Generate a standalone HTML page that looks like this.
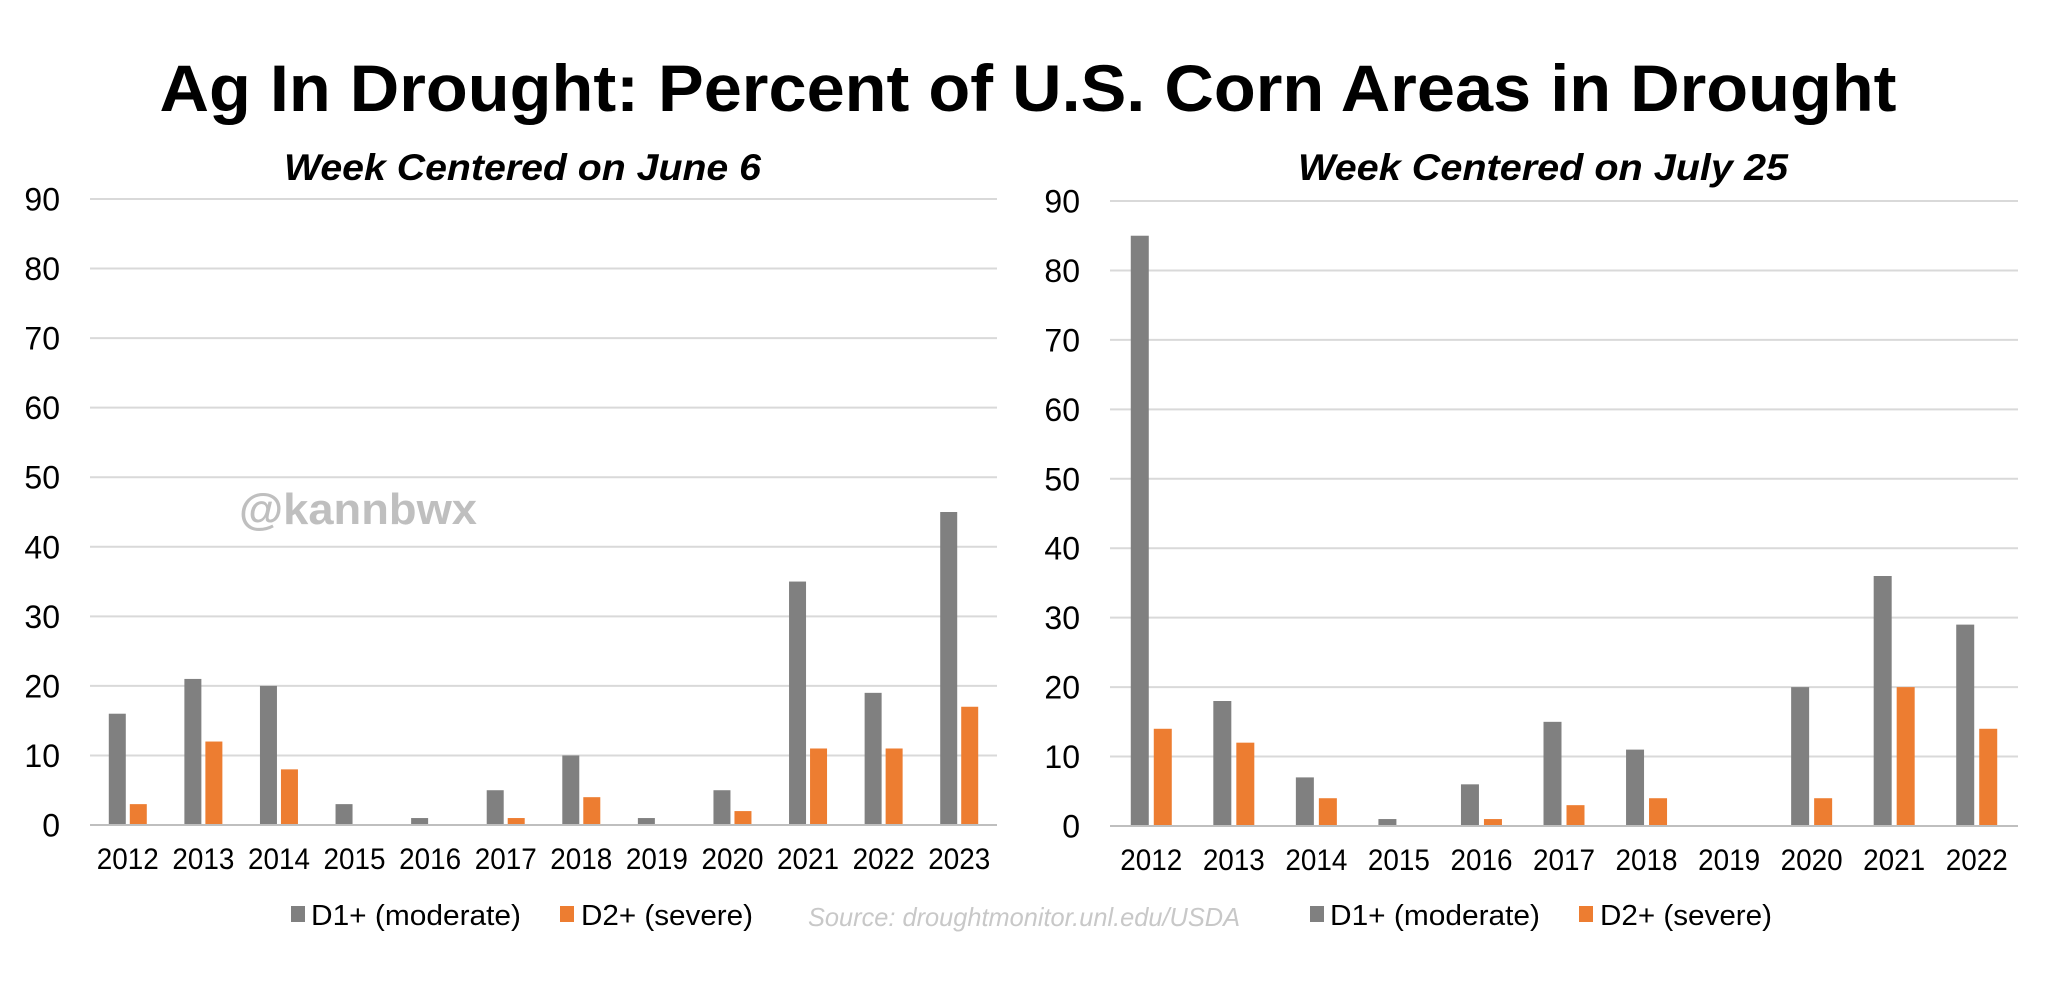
<!DOCTYPE html>
<html><head><meta charset="utf-8"><style>
html,body{margin:0;padding:0;background:#fff;}
svg{display:block;font-family:"Liberation Sans",Arial,sans-serif;}
</style></head><body>
<svg id="chart" width="2048" height="990" viewBox="0 0 2048 990">
<text x="1028" y="111" text-anchor="middle" font-size="66" font-weight="bold" textLength="1737" lengthAdjust="spacingAndGlyphs">Ag In Drought: Percent of U.S. Corn Areas in Drought</text>
<text x="284" y="180" font-size="37" font-weight="bold" font-style="italic" textLength="477" lengthAdjust="spacingAndGlyphs">Week Centered on June 6</text>
<text x="1298" y="180" font-size="37" font-weight="bold" font-style="italic" textLength="490" lengthAdjust="spacingAndGlyphs">Week Centered on July 25</text>
<text x="239" y="524" font-size="44" font-weight="bold" fill="#bfbfbf" textLength="238" lengthAdjust="spacingAndGlyphs">@kannbwx</text>
<text x="808" y="926" font-size="26" font-style="italic" fill="#c8c8c8" textLength="432" lengthAdjust="spacingAndGlyphs">Source: droughtmonitor.unl.edu/USDA</text>
<g id="left"></g>
<g id="right"></g>
</svg>
<script>
const yTicks = [0,10,20,30,40,50,60,70,80,90];
const juneYears = ["2012","2013","2014","2015","2016","2017","2018","2019","2020","2021","2022","2023"];
const juneD1 = [16,21,20,3,1,5,10,1,5,35,19,45];
const juneD2 = [3,12,8,0,0,1,4,0,2,11,11,17];
const julyYears = ["2012","2013","2014","2015","2016","2017","2018","2019","2020","2021","2022"];
const julyD1 = [85,18,7,1,6,15,11,0,20,36,29];
const julyD2 = [14,12,4,0,1,3,4,0,4,20,14];
const NS='http://www.w3.org/2000/svg';
function mk(parent, tag, attrs){const e=document.createElementNS(NS,tag);for(const k in attrs)e.setAttribute(k,attrs[k]);parent.appendChild(e);return e;}
function panel(g, cfg, years, d1, d2){
  const y = v => cfg.y0 + (cfg.y90 - cfg.y0) * v / 90;
  const step = (cfg.x1 - cfg.x0) / years.length;
  const xc = i => cfg.x0 + step*(i+0.5);
  yTicks.forEach(t=>{
    const l=mk(g,'line',{x1:cfg.x0,x2:cfg.x1,y1:y(t),y2:y(t),stroke:'#d9d9d9','stroke-width':2});
    
    
    const tx=mk(g,'text',{x:cfg.lx,y:y(t)+11.5,'text-anchor':'end','font-size':32});
    tx.textContent=t;
    
    
  });
  const bw=cfg.bw, gap=cfg.gap;
  years.forEach((yr,i)=>{
    const c=xc(i);
    if(d1[i]>0){const r=mk(g,'rect',{x:c-gap-bw,y:y(d1[i]),width:bw,height:y(0)-y(d1[i]),fill:'#808080'});
      
      }
    if(d2[i]>0){const r=mk(g,'rect',{x:c+gap,y:y(d2[i]),width:bw,height:y(0)-y(d2[i]),fill:'#ed7d31'});
      
      }
    const tx=mk(g,'text',{x:c,y:cfg.y0+44,'text-anchor':'middle','font-size':30,textLength:62,lengthAdjust:'spacingAndGlyphs'});
    tx.textContent=yr;
    
    
  });
  const ax=mk(g,'line',{x1:cfg.x0,x2:cfg.x1,y1:y(0),y2:y(0),stroke:'#bfbfbf','stroke-width':2});
  
  
  const s1=mk(g,'rect',{x:cfg.lg,y:906,width:14,height:16,fill:'#808080'});
  
  
  const t1=mk(g,'text',{x:cfg.lg+20,y:925,'font-size':29,textLength:210,lengthAdjust:'spacingAndGlyphs'});
  t1.textContent='D1+ (moderate)';
  
  
  const s2=mk(g,'rect',{x:cfg.lg+269,y:906,width:14,height:16,fill:'#ed7d31'});
  
  
  const t2=mk(g,'text',{x:cfg.lg+290,y:925,'font-size':29,textLength:172,lengthAdjust:'spacingAndGlyphs'});
  t2.textContent='D2+ (severe)';
  
  
}
panel(document.getElementById('left'),{x0:90,x1:997,y0:825,y90:199,lx:60,bw:17,gap:2,lg:291},juneYears,juneD1,juneD2);
panel(document.getElementById('right'),{x0:1110,x1:2018,y0:826,y90:201,lx:1080,bw:18,gap:2.5,lg:1310},julyYears,julyD1,julyD2);
</script>
</body></html>
